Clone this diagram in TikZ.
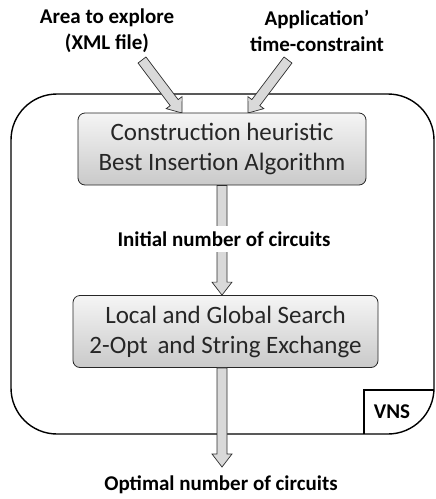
\documentclass[tikz,border=0pt]{standalone}
\usepackage{fontspec}
\setmainfont{Carlito}
\usetikzlibrary{calc}

\tikzset{
    stage/.style={draw=gray!30!black, line width=0.8pt, rounded corners=7pt,
        top color=gray!8, bottom color=gray!42, minimum height=72pt,
        align=center, text=black!85, font=\fontsize{25}{30}\selectfont},
    lbl/.style={align=center, font=\bfseries\fontsize{21}{26}\selectfont},
    fat arrow/.style={fill=gray!30, draw=gray!35!black, line width=0.7pt, line join=miter}
}

% block arrow from #1 to #2
\newcommand{\fatarrow}[2]{%
    \path (#1); \pgfgetlastxy{\ax}{\ay}%
    \path (#2); \pgfgetlastxy{\bx}{\by}%
    \pgfmathsetmacro{\ang}{atan2(\by-\ay,\bx-\ax)}%
    \pgfmathsetmacro{\len}{veclen(\bx-\ax,\by-\ay)}%
    \pgfmathsetmacro{\hb}{\len-13}%
    \filldraw[fat arrow, shift={(#1)}, rotate=\ang]
        (0pt,-5pt) -- (\hb pt,-5pt) -- (\hb pt,-10pt) -- (\len pt,0pt)
        -- (\hb pt,10pt) -- (\hb pt,5pt) -- (0pt,5pt) -- cycle;}

\begin{document}
\begin{tikzpicture}[x=1pt, y=-1pt]
    \useasboundingbox (0,0) rectangle (436,499);

    % VNS frame
    \draw[line width=1.4pt, rounded corners=46pt] (11,94) rectangle (434,434);
    \draw[line width=1.4pt] (364,434) -- (364,390) -- (434,390);
    \node[lbl] (vns) at (392,412) {VNS};

    % inputs
    \node[lbl] (area) at (107,31) {Area to explore\\(XML file)};
    \node[lbl] (app) at (317,31) {Application'\\time-constraint};
    \coordinate (areaTail) at (142,60);
    \coordinate (areaTip) at (182,113);
    \coordinate (appTail) at (288,60);
    \coordinate (appTip) at (248,113);
    \fatarrow{areaTail}{areaTip}
    \fatarrow{appTail}{appTip}

    % stages
    \node[stage, minimum width=288pt] (construct) at (222,149)
        {Construction heuristic\\Best Insertion Algorithm};
    \node[stage, minimum width=305pt] (search) at (225.5,331.5)
        {Local and Global Search\\2-Opt\, and String Exchange};

    \fatarrow{construct.south}{construct.south |- search.north}
    \node[lbl, fill=white, inner ysep=6pt] (initial) at (224,239) {Initial number of circuits};

    % output
    \coordinate (outTip) at (222,467);
    \fatarrow{search.south -| outTip}{outTip}
    \node[lbl] (optimal) at (221,485) {Optimal number of circuits};
\end{tikzpicture}
\end{document}
